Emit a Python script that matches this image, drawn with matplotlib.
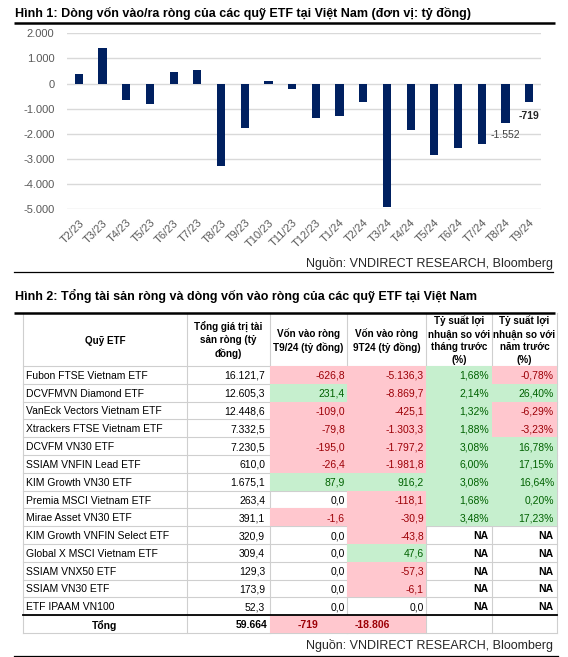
import matplotlib
matplotlib.use("Agg")
import matplotlib.pyplot as plt
import numpy as np

plt.rcParams["font.family"] = ["Liberation Sans", "DejaVu Sans"]

# Hinh 1: net flows by month (ty dong)
months = ['T2/23', 'T3/23', 'T4/23', 'T5/23', 'T6/23', 'T7/23', 'T8/23', 'T9/23',
          'T10/23', 'T11/23', 'T12/23', 'T1/24', 'T2/24', 'T3/24', 'T4/24', 'T5/24',
          'T6/24', 'T7/24', 'T8/24', 'T9/24']
flows = [380, 1400, -650, -820, 460, 530, -3290, -1780, 120, -230, -1370, -1280,
         -720, -4890, -1840, -2860, -2570, -2390, -1552, -719]
yticks = [2000, 1000, 0, -1000, -2000, -3000, -4000, -5000]

# Hinh 2: table
funds = ["Fubon FTSE Vietnam ETF", "DCVFMVN Diamond ETF", "VanEck Vectors Vietnam ETF",
         "Xtrackers FTSE Vietnam ETF", "DCVFM VN30 ETF", "SSIAM VNFIN Lead ETF",
         "KIM Growth VN30 ETF", "Premia MSCI Vietnam ETF", "Mirae Asset VN30 ETF",
         "KIM Growth VNFIN Select ETF", "Global X MSCI Vietnam ETF", "SSIAM VNX50 ETF",
         "SSIAM VN30 ETF", "ETF IPAAM VN100"]
nav = [16121.7, 12605.3, 12448.6, 7332.5, 7230.5, 610.0, 1675.1, 263.4, 391.1,
       320.9, 309.4, 129.3, 173.9, 52.3]
flow_sep = [-626.8, 231.4, -109.0, -79.8, -195.0, -26.4, 87.9, 0.0, -1.6,
            0.0, 0.0, 0.0, 0.0, 0.0]
flow_ytd = [-5136.3, -8869.7, -425.1, -1303.3, -1797.2, -1981.8, 916.2, -118.1,
            -30.9, -43.8, 47.6, -57.3, -6.1, 0.0]
ret_mom = [1.68, 2.14, 1.32, 1.88, 3.08, 6.00, 3.08, 1.68, 3.48,
           None, None, None, None, None]
ret_yoy = [-0.78, 26.40, -6.29, -3.23, 16.78, 17.15, 16.64, 0.20, 17.23,
           None, None, None, None, None]
headers = ["Quỹ ETF", "Tổng giá trị tài\nsản ròng (tỷ\nđồng)",
           "Vốn vào ròng\nT9/24 (tỷ đồng)", "Vốn vào ròng\n9T24 (tỷ đồng)",
           "Tỷ suất lợi\nnhuận so với\ntháng trước\n(%)",
           "Tỷ suất lợi\nnhuận so với\nnăm trước\n(%)"]

PINK, PINK_TXT = '#FFC7CE', '#9C0006'
GREEN, GREEN_TXT = '#C6EFCE', '#006100'
NAVY = '#002060'


def vn(v, dec=1):
    s = f"{v:,.{dec}f}"
    return s.replace(',', '#').replace('.', ',').replace('#', '.')


W, H = 568, 657
fig = plt.figure(figsize=(W / 100, H / 100), dpi=100)

# ---- bar chart ----
ax = fig.add_axes([67 / W, 1 - 209.3 / H, 474 / W, 176 / H])
x = np.arange(len(months))
ax.bar(x, flows, width=0.35, color=NAVY, zorder=3)
ax.set_xlim(-0.5, len(months) - 0.5)
ax.set_ylim(-5000, 2000)
ax.set_yticks(yticks)
ax.set_yticklabels([vn(t, 0) for t in yticks], fontsize=8, color='#595959')
ax.set_xticks(x)
ax.set_xticklabels(months, rotation=45, ha='right', va='top', rotation_mode='anchor',
                   fontsize=8, color='#595959')
ax.tick_params(length=0)
ax.tick_params(axis='y', pad=9)
ax.tick_params(axis='x', pad=6)
ax.grid(axis='y', color='#D9D9D9', linewidth=1, zorder=0)
for s in ax.spines.values():
    s.set_visible(False)
ax.annotate(vn(flows[-1], 0), (x[-1], flows[-1]), xytext=(0, -10), textcoords='offset points',
            ha='center', va='center', fontsize=7.5, fontweight='bold', color='#262626')
ax.annotate(vn(flows[-2], 0), (x[-2], flows[-2]), xytext=(0, -9),
            textcoords='offset points', ha='center', va='center', fontsize=7.5, color='#404040')

# ---- overlay in pixel coordinates ----
ov = fig.add_axes([0, 0, 1, 1], zorder=5)
ov.set_xlim(0, W)
ov.set_ylim(H, 0)
ov.axis('off')
ov.patch.set_visible(False)

ov.text(15, 13, "Hình 1: Dòng vốn vào/ra ròng của các quỹ ETF tại Việt Nam (đơn vị: tỷ đồng)",
        fontsize=9, fontweight='bold', va='center', ha='left')
ov.plot([14, 555], [23, 23], color='black', lw=1.8, solid_capstyle='butt')
ov.text(553, 263, "Nguồn: VNDIRECT RESEARCH, Bloomberg", fontsize=9, ha='right', va='center',
        color='#262626')
ov.plot([14, 553], [271.5, 271.5], color='black', lw=0.9)

ov.text(15, 296, "Hình 2: Tổng tài sản ròng và dòng vốn vào ròng của các quỹ ETF tại Việt Nam",
        fontsize=9, fontweight='bold', va='center', ha='left')
ov.plot([14, 555], [313, 313], color='black', lw=1.8, solid_capstyle='butt')

# table geometry
cols = [23, 187, 270, 347, 426, 492, 557]
top, head_bot, rh = 313, 366, 17.8
n = len(funds)
rows = [head_bot + i * rh for i in range(n + 1)]
tot_bot = rows[-1] + rh
grid_c = '#CFCFCF'

# grid lines
for cx in cols:
    ov.plot([cx, cx], [top, tot_bot], color=grid_c, lw=0.8, zorder=1)
for ry in [head_bot] + rows[1:] + [tot_bot]:
    ov.plot([cols[0], cols[-1]], [ry, ry], color=grid_c, lw=0.8, zorder=1)


def cell_fill(c, r0, r1, v):
    if v is None or v == 0:
        return 'black'
    fc, tc = (PINK, PINK_TXT) if v < 0 else (GREEN, GREEN_TXT)
    ov.add_patch(plt.Rectangle((cols[c], r0), cols[c + 1] - cols[c], r1 - r0,
                               facecolor=fc, edgecolor='none', zorder=2))
    return tc


# header
for c, h in enumerate(headers):
    ov.text((cols[c] + cols[c + 1]) / 2, (top + head_bot) / 2 + 1, h, ha='center', va='center',
            fontsize=7.1, fontweight='bold', linespacing=1.3, zorder=4)

fs = 7.5
for i in range(n):
    r0, r1 = rows[i], rows[i + 1]
    yc = (r0 + r1) / 2 + 1
    ov.text(cols[0] + 3, yc, funds[i], ha='left', va='center', fontsize=fs, zorder=4)
    ov.text(cols[2] - 5, yc, vn(nav[i]), ha='right', va='center', fontsize=fs, zorder=4)
    for c, v in [(2, flow_sep[i]), (3, flow_ytd[i])]:
        tc = cell_fill(c, r0, r1, v)
        ov.text(cols[c + 1] - 2, yc, vn(v), ha='right', va='center', fontsize=fs, color=tc,
                zorder=4)
    for c, v in [(4, ret_mom[i]), (5, ret_yoy[i])]:
        if v is None:
            ov.text(cols[c + 1] - 4, yc, "NA", ha='right', va='center', fontsize=fs,
                    fontweight='bold', zorder=4)
        else:
            tc = cell_fill(c, r0, r1, v)
            ov.text(cols[c + 1] - 3, yc, vn(v, 2) + "%", ha='right', va='center', fontsize=fs,
                    color=tc, zorder=4)

# total row
r0 = rows[-1]
yc = (r0 + tot_bot) / 2 + 1
ov.plot([cols[0], cols[-1]], [r0, r0], color='black', lw=1.3, zorder=3)
ov.text((cols[0] + cols[1]) / 2, yc, "Tổng", ha='center', va='center', fontsize=fs,
        fontweight='bold', zorder=4)
ov.text(cols[2] - 3, yc, vn(round(sum(nav)), 0), ha='right', va='center', fontsize=fs,
        fontweight='bold', zorder=4)
tot_sep = round(sum(flow_sep))
tot_ytd = round(sum(flow_ytd))
tc = cell_fill(2, r0, tot_bot, tot_sep)
ov.text((cols[2] + cols[3]) / 2, yc, vn(tot_sep, 0), ha='center', va='center', fontsize=fs,
        fontweight='bold', color=tc, zorder=4)
tc = cell_fill(3, r0, tot_bot, tot_ytd)
ov.text(372, yc, vn(tot_ytd, 0), ha='center', va='center', fontsize=fs,
        fontweight='bold', color=tc, zorder=4)

ov.text(553, 646, "Nguồn: VNDIRECT RESEARCH, Bloomberg", fontsize=9, ha='right', va='center',
        color='#262626')
ov.plot([14, 558], [655.5, 655.5], color='black', lw=0.9)

fig.savefig("out.png", dpi=100, facecolor='white')
